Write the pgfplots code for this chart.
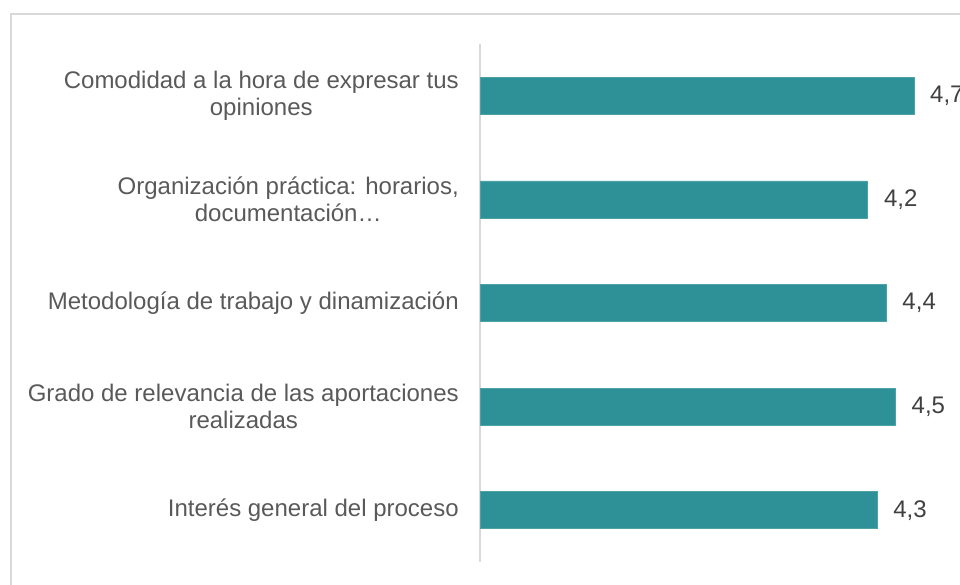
\documentclass[border=0pt]{standalone}
\usepackage{pgfplots}
\pgfplotsset{compat=1.18}
\usepackage{fontspec}
\setmainfont{Liberation Sans}
\definecolor{barc}{HTML}{2F9198}
\definecolor{framec}{HTML}{D9D9D9}
\definecolor{labc}{HTML}{595959}
\definecolor{valc}{HTML}{404040}
\begin{document}
\begin{tikzpicture}
\useasboundingbox (0,0) rectangle (720pt,438.75pt);
\draw[framec, line width=1.5pt] (8.25pt,-5pt) -- (8.25pt,428.25pt) -- (730pt,428.25pt);
\begin{axis}[
  at={(360pt,17.25pt)}, anchor=south west,
  scale only axis, width=360pt, height=388.5pt,
  xmin=0, xmax=5.2, ymin=0.5, ymax=5.5,
  clip=false,
  axis x line=none,
  axis y line=left,
  axis line style={-, framec, line width=1.1pt},
  xbar, bar width=27.75pt,
  ytick={1,2,3,4,5},
  yticklabels={
    {Interés general del proceso},
    {Grado de relevancia de las aportaciones\\realizadas},
    {Metodología de trabajo y dinamización},
    {Organización práctica: horarios,\\documentación…},
    {Comodidad a la hora de expresar tus\\opiniones}},
  major tick length=0pt,
  yticklabel style={align=center, anchor=east, inner sep=0pt, xshift=-15.75pt,
    font=\fontsize{18}{20.7}\selectfont, text=labc},
  nodes near coords,
  nodes near coords style={anchor=west, inner sep=0pt, xshift=12pt,
    font=\fontsize{18}{20.7}\selectfont, text=valc,
    /pgf/number format/.cd, fixed, fixed zerofill, precision=1, use comma, assume math mode=true},
]
\addplot[fill=barc, draw=barc!85!white, line width=0.5pt] coordinates {
  (4.3,1) (4.5,2) (4.4,3) (4.2,4) (4.7,5)
};
\end{axis}
\end{tikzpicture}
\end{document}
